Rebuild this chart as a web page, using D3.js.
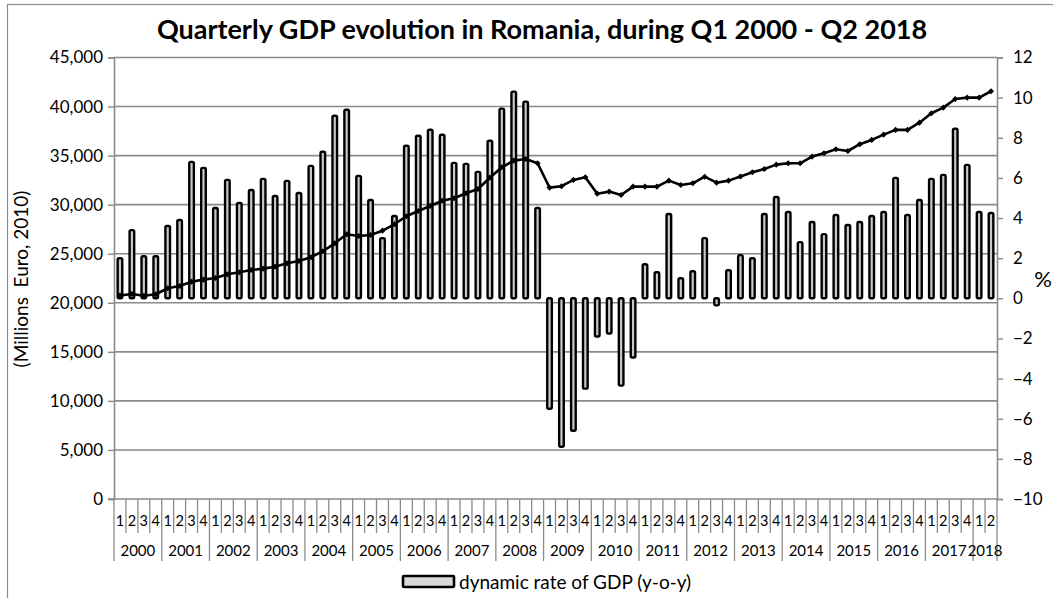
<!DOCTYPE html>
<html>
<head>
<meta charset="utf-8">
<script src="https://cdn.jsdelivr.net/npm/d3@7"></script>
<style>
  body { margin: 0; background: #fff; }
  svg text { font-family: Lato, "Liberation Sans", sans-serif; fill: #000; }
</style>
</head>
<body>
<svg id="chart" width="1053" height="598"></svg>
<script>
const years = ["2000","2001","2002","2003","2004","2005","2006","2007","2008","2009",
  "2010","2011","2012","2013","2014","2015","2016","2017","2018"];
const quarters = [];
years.forEach((y) => {
  const n = y === "2018" ? 2 : 4;
  for (let q = 1; q <= n; q++) quarters.push({ year: y, q: q });
});

// y-o-y growth (%), right axis
const growth = [
  2.0, 3.4, 2.1, 2.1,
  3.6, 3.9, 6.8, 6.5,
  4.5, 5.9, 4.75, 5.4,
  5.95, 5.1, 5.85, 5.25,
  6.6, 7.3, 9.1, 9.4,
  6.1, 4.9, 3.0, 4.1,
  7.6, 8.1, 8.4, 8.15,
  6.75, 6.7, 6.3, 7.85,
  9.45, 10.3, 9.8, 4.5,
  -5.5, -7.4, -6.6, -4.5,
  -1.9, -1.75, -4.35, -2.95,
  1.7, 1.3, 4.2, 1.0,
  1.35, 3.0, -0.35, 1.4,
  2.15, 2.0, 4.2, 5.05,
  4.3, 2.8, 3.8, 3.2,
  4.15, 3.65, 3.8, 4.1,
  4.3, 6.0, 4.15, 4.9,
  5.95, 6.15, 8.45, 6.65,
  4.3, 4.25
];

// quarterly GDP (millions euro, 2010 prices), left axis
const gdp = [
  20740, 20900, 20720, 20870,
  21480, 21710, 22150, 22360,
  22530, 22900, 23110, 23340,
  23480, 23680, 24020, 24260,
  24640, 25250, 26060, 26980,
  26810, 26910, 27350, 28000,
  28820, 29360, 29870, 30400,
  30650, 31160, 31600, 32750,
  33810, 34490, 34660, 34220,
  31740, 31880, 32520, 32790,
  31120, 31330, 30990, 31840,
  31840, 31840, 32450, 32010,
  32180, 32850, 32240, 32450,
  32870, 33300, 33640, 34080,
  34220, 34220, 34900, 35240,
  35650, 35470, 36160, 36600,
  37140, 37620, 37620, 38360,
  39320, 39890, 40770, 40910,
  40910, 41560
];

const leftTicks = d3.range(0, 45001, 5000);
const rightTicks = d3.range(-10, 13, 2);

const svg = d3.select("#chart");
const x0 = 114, x1 = 997, yTop = 57.5, yBot = 499;

const x = d3.scaleBand().domain(d3.range(quarters.length)).range([x0, x1]).padding(0);
const yL = d3.scaleLinear().domain([0, 45000]).range([yBot, yTop]);
const yR = d3.scaleLinear().domain([-10, 12]).range([yBot, yTop]);

// outer frame
svg.append("rect").attr("x", 7.5).attr("y", 4.5).attr("width", 1060).attr("height", 620)
  .attr("fill", "none").attr("stroke", "#8c8c8c").attr("stroke-width", 1.2);

// title
svg.append("text").attr("x", 542).attr("y", 39).attr("text-anchor", "middle")
  .style("font-size", "27px").style("font-weight", "bold")
  .text("Quarterly GDP evolution in Romania, during Q1 2000 - Q2 2018");

// gridlines
svg.append("g").selectAll("line").data(leftTicks.filter((d) => d > 0)).join("line")
  .attr("x1", x0).attr("x2", x1)
  .attr("y1", (d) => yL(d)).attr("y2", (d) => yL(d))
  .attr("stroke", "#8a8a8a").attr("stroke-width", 1.6);

// left axis
const gL = svg.append("g").attr("transform", `translate(${x0},0)`)
  .call(d3.axisLeft(yL).tickValues(leftTicks).tickFormat(d3.format(",")).tickSize(6).tickPadding(5));
gL.select(".domain").attr("stroke", "#8a8a8a").attr("stroke-width", 1.6);
gL.selectAll(".tick line").attr("stroke", "#8a8a8a").attr("stroke-width", 1.4);
gL.selectAll("text").style("font-size", "17px").style("font-family", "Lato, sans-serif");

// right axis
const gR = svg.append("g").attr("transform", `translate(${x1},0)`)
  .call(d3.axisRight(yR).tickValues(rightTicks).tickSize(6).tickPadding(10));
gR.select(".domain").attr("stroke", "#8a8a8a").attr("stroke-width", 1.6);
gR.selectAll(".tick line").attr("stroke", "#8a8a8a").attr("stroke-width", 1.4);
gR.selectAll("text").style("font-size", "17px").style("font-family", "Lato, sans-serif");

// axis titles
svg.append("text").attr("transform", "translate(28,279) rotate(-90)")
  .attr("text-anchor", "middle").style("font-size", "19px").style("white-space", "pre")
  .text("(Millions  Euro, 2010)");
svg.append("text").attr("x", 1043).attr("y", 287).attr("text-anchor", "middle")
  .style("font-size", "22px").text("%");

// x axis line
svg.append("line").attr("x1", x0 - 6).attr("x2", x1).attr("y1", yBot).attr("y2", yBot)
  .attr("stroke", "#8a8a8a").attr("stroke-width", 1.6);

// quarter separators
const gX = svg.append("g");
gX.selectAll("line.q").data(d3.range(quarters.length + 1)).join("line")
  .attr("class", "q")
  .attr("x1", (i) => (i < quarters.length ? x(i) : x1))
  .attr("x2", (i) => (i < quarters.length ? x(i) : x1))
  .attr("y1", yBot)
  .attr("y2", (i) => (i % 4 === 0 || i === quarters.length ? 561 : 533))
  .attr("stroke", "#8a8a8a").attr("stroke-width", 1.3);

gX.selectAll("text.q").data(quarters).join("text")
  .attr("class", "q")
  .attr("x", (d, i) => x(i) + x.bandwidth() / 2)
  .attr("y", 526).attr("text-anchor", "middle")
  .style("font-size", "14.5px").text((d) => d.q);

gX.selectAll("text.y").data(years).join("text")
  .attr("class", "y")
  .attr("x", (y, k) => {
    const first = k * 4;
    const n = y === "2018" ? 2 : 4;
    return x(first) + (n * x.bandwidth()) / 2;
  })
  .attr("y", 556).attr("text-anchor", "middle")
  .style("font-size", "15px").text((d) => d);

// bars
const barW = 4.6;
svg.append("g").selectAll("rect").data(growth).join("rect")
  .attr("x", (d, i) => x(i) + x.bandwidth() / 2 - barW / 2)
  .attr("width", barW)
  .attr("y", (d) => (d >= 0 ? yR(d) : yR(0)))
  .attr("height", (d) => Math.max(Math.abs(yR(d) - yR(0)), 1))
  .attr("rx", 1.5)
  .attr("fill", "#c8c8c8").attr("stroke", "#000").attr("stroke-width", 2.4);

// GDP line
const line = d3.line()
  .x((d, i) => x(i) + x.bandwidth() / 2)
  .y((d) => yL(d));
svg.append("path").datum(gdp).attr("d", line)
  .attr("fill", "none").attr("stroke", "#000").attr("stroke-width", 2.6)
  .attr("stroke-linejoin", "round");

svg.append("g").selectAll("path").data(gdp).join("path")
  .attr("transform", (d, i) => `translate(${x(i) + x.bandwidth() / 2},${yL(d)})`)
  .attr("d", d3.symbol(d3.symbolDiamond2, 24))
  .attr("fill", "#000");

// legend
svg.append("rect").attr("x", 403).attr("y", 576).attr("width", 51).attr("height", 11)
  .attr("rx", 1).attr("fill", "#d9d9d9").attr("stroke", "#000").attr("stroke-width", 2.6);
svg.append("text").attr("x", 459).attr("y", 589).style("font-size", "19px")
  .text("dynamic rate of GDP (y-o-y)");
</script>
</body>
</html>
